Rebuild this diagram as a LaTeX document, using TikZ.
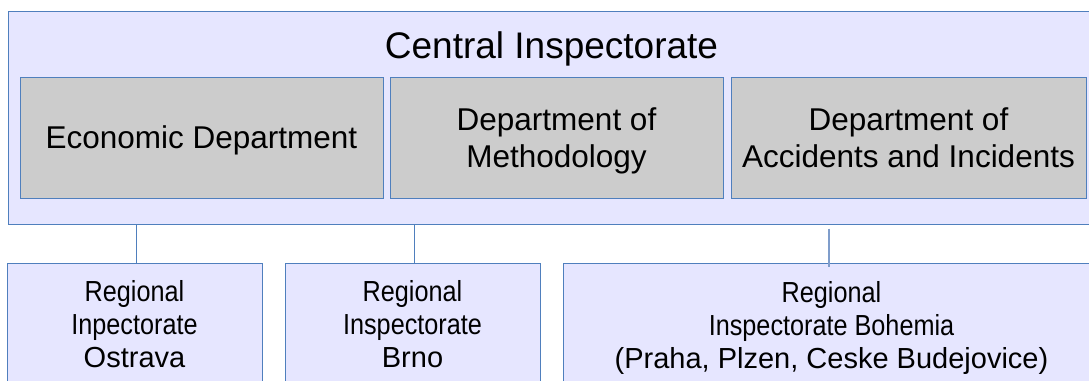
\documentclass[tikz,border=0pt]{standalone}
\usepackage{fontspec}
\setmainfont{Liberation Sans}
\usepackage{graphicx}
\usetikzlibrary{positioning}
\definecolor{boxblue}{HTML}{E6E6FF}
\definecolor{edgeblue}{HTML}{4F7FBD}
\definecolor{deptgray}{HTML}{CCCCCC}
\definecolor{faintblue}{HTML}{7F9DCB}
\newcommand{\condensed}[1]{\scalebox{0.87}[1]{#1}}

\begin{document}
\begin{tikzpicture}
  [x=1pt,y=-1pt,
   every node/.style={rectangle,draw=edgeblue,line width=1pt,inner sep=0pt},
   dept/.style={fill=deptgray,minimum height=121pt,align=center,
     font=\fontsize{31.5}{37}\selectfont},
   region/.style={fill=boxblue,align=center,font=\fontsize{29}{33}\selectfont},
   link/.style={draw=edgeblue,line width=1pt}]
  \clip (0,0) rectangle (1089,380);
  \fill[white] (0,0) rectangle (1089,380);

  \node[fill=boxblue,minimum width=1087pt,minimum height=213pt] (central) at (551.5,117.5) {};
  \node[draw=none,font=\fontsize{37}{44}\selectfont,text depth=0pt] (title) at (551.5,45.5) {Central Inspectorate};

  \node[dept,minimum width=363pt,text depth=0pt] (economic) at (201.5,137.5) {Economic Department};
  \node[dept,minimum width=333pt] (methodology) at (556.5,137.5)
    {Department of\\\raisebox{0pt}[\height][0pt]{Methodology}};
  \node[dept,minimum width=355pt] (accidents) at (908.5,137.5) {Department of\\Accidents and Incidents};

  \node[region,minimum width=255pt,minimum height=123pt] (ostrava) at (134.5,324.5)
    {\condensed{Regional}\\\condensed{Inpectorate}\\Ostrava};
  \node[region,minimum width=255pt,minimum height=123pt] (brno) at (412.5,324.5)
    {\condensed{Regional}\\\condensed{Inspectorate}\\Brno};
  \node[region,minimum width=537pt,minimum height=129pt] (bohemia) at (831.5,327.5)
    {\condensed{Regional}\\\condensed{Inspectorate Bohemia}\\(Praha, Plzen, Ceske Budejovice)};

  \coordinate (ostravatop) at (136,263);
  \coordinate (brnotop) at (414,263);
  \coordinate (bohemiatop) at (829,267);

  \draw[link] (ostravatop |- central.south) -- (ostravatop);
  \draw[link] (brnotop |- central.south) -- (brnotop);
  \draw[link,draw=faintblue,line width=1.5pt] ([yshift=-4pt]bohemiatop |- central.south) -- (bohemiatop);

\end{tikzpicture}
\end{document}
